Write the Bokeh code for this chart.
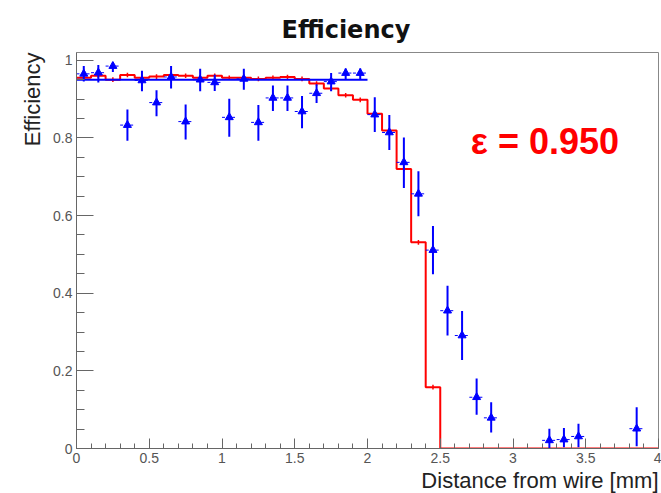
import numpy as np
from bokeh.plotting import figure
from bokeh.models import Range1d, FixedTicker, CustomJSTickFormatter, Label, Title
from bokeh.embed import file_html
from bokeh.resources import INLINE

# ---------------- data ----------------
bin_edges = [round(0.1 * i, 1) for i in range(41)]
sim_eff = [0.955, 0.960, 0.950, 0.962, 0.955, 0.958, 0.962, 0.960, 0.955, 0.960,
           0.955, 0.955, 0.952, 0.955, 0.957, 0.952, 0.940, 0.927, 0.910, 0.898,
           0.862, 0.819, 0.720, 0.531, 0.158,
           0.0, 0.0, 0.0, 0.0, 0.0, 0.0, 0.0, 0.0, 0.0, 0.0, 0.0, 0.0, 0.0, 0.0, 0.0]
sim_err = [0.006] * 25 + [0.0] * 15

data_x = [0.05, 0.15, 0.25, 0.35, 0.45, 0.55, 0.65, 0.75, 0.85, 0.95,
          1.05, 1.15, 1.25, 1.35, 1.45, 1.55, 1.65, 1.75, 1.85, 1.95,
          2.05, 2.15, 2.25, 2.35, 2.45, 2.55, 2.65, 2.75, 2.85,
          3.25, 3.35, 3.45, 3.85]
data_eff = [0.965, 0.968, 0.985, 0.833, 0.948, 0.891, 0.957, 0.842, 0.950, 0.943,
            0.853, 0.952, 0.840, 0.903, 0.903, 0.868, 0.915, 0.945, 0.967, 0.967,
            0.860, 0.814, 0.737, 0.656, 0.511, 0.355, 0.291, 0.132, 0.079,
            0.021, 0.023, 0.031, 0.051]
err_lo = [0.020, 0.025, 0.015, 0.040, 0.028, 0.035, 0.030, 0.046, 0.030, 0.022,
          0.050, 0.028, 0.047, 0.034, 0.034, 0.043, 0.025, 0.025, 0.015, 0.015,
          0.045, 0.045, 0.066, 0.058, 0.062, 0.064, 0.063, 0.045, 0.038,
          0.020, 0.020, 0.028, 0.045]
err_hi = [0.020, 0.020, 0.010, 0.040, 0.025, 0.032, 0.028, 0.044, 0.028, 0.020,
          0.048, 0.026, 0.045, 0.032, 0.032, 0.040, 0.023, 0.022, 0.012, 0.012,
          0.045, 0.045, 0.064, 0.058, 0.062, 0.064, 0.063, 0.048, 0.040,
          0.030, 0.030, 0.033, 0.055]
bin_half = 0.05

fit_range = [0.0, 2.0]
fit_eff = 0.950

x_ticks = [0, 0.5, 1, 1.5, 2, 2.5, 3, 3.5, 4]
y_ticks = [0, 0.2, 0.4, 0.6, 0.8, 1.0]

title_text = "Efficiency"
x_title = "Distance from wire [mm]"
y_title = "Efficiency"

BLUE = "#0000ff"
RED = "#ff0000"
AXC = "#666666"
FONT = "Liberation Sans"

# ---------------- figure ----------------
p = figure(width=661, height=493, output_backend="svg", toolbar_location=None,
           x_range=Range1d(0, 4), y_range=Range1d(0, 1.02),
           min_border_left=76, min_border_right=3, min_border_top=52,
           min_border_bottom=45)
p.background_fill_color = "white"
p.border_fill_color = "white"
p.outline_line_color = "#888888"
p.outline_line_width = 1
p.xgrid.visible = False
p.ygrid.visible = False

p.title.text = title_text
p.title.align = "left"
p.title.offset = 205
p.title.standoff = 18
p.title.text_font = "DejaVu Sans"
p.title.text_font_style = "bold"
p.title.text_font_size = "24px"
p.title.text_color = "#111111"

fmt = CustomJSTickFormatter(code="return String(Math.round(tick*100)/100)")

xa = p.xaxis[0]
xa.ticker = FixedTicker(ticks=x_ticks,
                        minor_ticks=[round(0.1 * i, 1) for i in range(41)])
xa.formatter = fmt
xa.major_tick_in = 10
xa.major_tick_out = 0
xa.minor_tick_in = 5
xa.minor_tick_out = 0
xa.major_label_standoff = 4

ya = p.yaxis[0]
ya.ticker = FixedTicker(ticks=y_ticks,
                        minor_ticks=[round(0.05 * i, 2) for i in range(21)])
ya.formatter = fmt
ya.major_tick_in = 17
ya.major_tick_out = 0
ya.minor_tick_in = 8
ya.minor_tick_out = 0
ya.major_label_standoff = 4

for ax in (xa, ya):
    ax.axis_line_color = AXC
    ax.major_tick_line_color = AXC
    ax.minor_tick_line_color = AXC
    ax.major_label_text_font = FONT
    ax.major_label_text_font_size = "14px"
    ax.major_label_text_color = "#555555"

# axis titles, ROOT style (aligned to the axis ends)
p.add_layout(Title(text=x_title, align="right", standoff=0, offset=0,
                   text_font=FONT, text_font_style="normal",
                   text_font_size="22px", text_color="#222222"), "below")
p.add_layout(Title(text=y_title, align="right", standoff=11,
                   text_font=FONT, text_font_style="normal",
                   text_font_size="22px", text_color="#222222"), "left")

# ---------------- glyphs ----------------
# simulation histogram (red step)
p.step(x=bin_edges, y=sim_eff + [sim_eff[-1]], mode="after",
       line_color=RED, line_width=2)
sim_x = [e + bin_half for e in bin_edges[:-1]]
p.segment(x0=sim_x, y0=[v - e for v, e in zip(sim_eff, sim_err)],
          x1=sim_x, y1=[v + e for v, e in zip(sim_eff, sim_err)],
          line_color=RED, line_width=1.5)

# fit line
p.line(x=fit_range, y=[fit_eff, fit_eff], line_color=BLUE, line_width=2)

# data points with errors
p.segment(x0=[x - bin_half for x in data_x], y0=data_eff,
          x1=[x + bin_half for x in data_x], y1=data_eff,
          line_color=BLUE, line_width=1, line_dash="3 2")
p.segment(x0=data_x, y0=[v - e for v, e in zip(data_eff, err_lo)],
          x1=data_x, y1=[v + e for v, e in zip(data_eff, err_hi)],
          line_color=BLUE, line_width=2)
p.scatter(x=data_x, y=data_eff, marker="triangle", size=8,
          fill_color=BLUE, line_color=BLUE)

# efficiency text
p.add_layout(Label(x=2.71, y=0.79, text=f"\u03b5 = {fit_eff:.3f}",
                   text_font=FONT, text_font_style="bold",
                   text_font_size="36px", text_color=RED,
                   text_baseline="middle", text_align="left"))

open("out.html", "w").write(file_html(p, INLINE))
